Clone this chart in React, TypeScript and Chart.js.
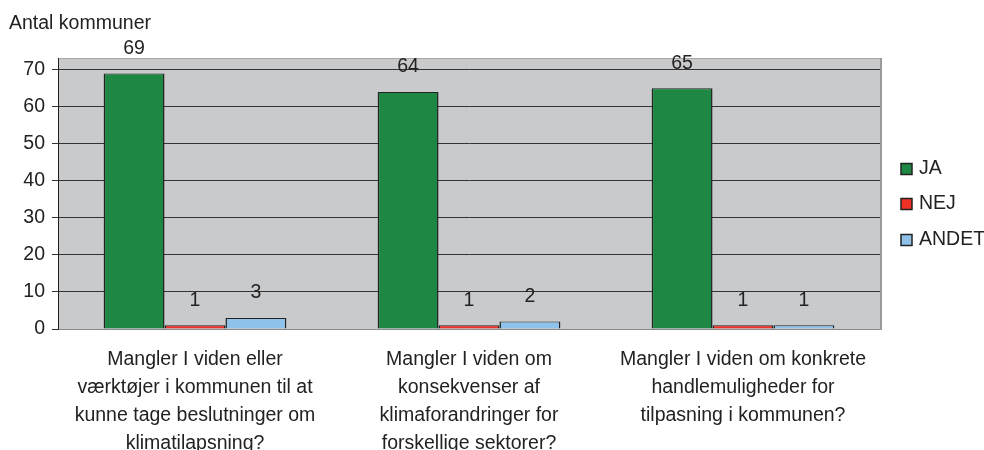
import React, { useEffect, useRef } from "react";
import { Chart, registerables } from "chart.js";

Chart.register(...registerables);

const categories: string[][] = [
  ["Mangler I viden eller", "værktøjer i kommunen til at", "kunne tage beslutninger om", "klimatilapsning?"],
  ["Mangler I viden om", "konsekvenser af", "klimaforandringer for", "forskellige sektorer?"],
  ["Mangler I viden om konkrete", "handlemuligheder for", "tilpasning i kommunen?"],
];
const seriesNames = ["JA", "NEJ", "ANDET"];
const jaValues = [69, 64, 65];
const nejValues = [1, 1, 1];
const andetValues = [3, 2, 1];
const seriesColors = ["#1f8744", "#ee3124", "#8fc2ea"];
const yTickValues = [0, 10, 20, 30, 40, 50, 60, 70];
const yAxisTitle = "Antal kommuner";

const FONT = "'Liberation Sans', Arial, sans-serif";
const FS = 19.5;
const TEXT = "#222222";

const plotPlugin = {
  id: "plotDecor",
  beforeDraw(chart: any) {
    const { ctx, chartArea: a } = chart;
    ctx.save();
    ctx.fillStyle = "#c9cacc";
    ctx.fillRect(a.left, a.top, a.right - a.left, a.bottom - a.top);
    ctx.strokeStyle = "#a8a8a8";
    ctx.lineWidth = 1;
    ctx.beginPath();
    ctx.moveTo(a.left, a.top + 0.5);
    ctx.lineTo(a.right, a.top + 0.5);
    ctx.stroke();
    ctx.restore();
  },
  afterDatasetsDraw(chart: any) {
    const { ctx, chartArea: a } = chart;
    ctx.save();
    ctx.strokeStyle = "#9a9a9a";
    ctx.lineWidth = 2;
    ctx.beginPath();
    ctx.moveTo(a.right + 1, a.top);
    ctx.lineTo(a.right + 1, a.bottom + 1);
    ctx.stroke();
    ctx.fillStyle = TEXT;
    ctx.font = `${FS}px ${FONT}`;
    ctx.textAlign = "center";
    ctx.textBaseline = "middle";
    chart.data.datasets.forEach((ds: any, i: number) => {
      const meta = chart.getDatasetMeta(i);
      meta.data.forEach((el: any, j: number) => {
        ctx.fillText(String(ds.data[j]), el.x, el.y - 25);
      });
    });
    ctx.restore();
  },
  afterDraw(chart: any) {
    const { ctx } = chart;
    ctx.save();
    ctx.fillStyle = TEXT;
    ctx.font = `${FS}px ${FONT}`;
    ctx.textAlign = "left";
    ctx.textBaseline = "middle";
    ctx.fillText(yAxisTitle, 9, 24);
    const ys = [169, 204, 240];
    chart.data.datasets.forEach((ds: any, i: number) => {
      const y = ys[i];
      ctx.fillStyle = ds.backgroundColor;
      ctx.fillRect(901, y - 5.5, 11, 11);
      ctx.strokeStyle = "#222";
      ctx.lineWidth = 1.5;
      ctx.strokeRect(901, y - 5.5, 11, 11);
      ctx.fillStyle = TEXT;
      ctx.fillText(ds.label, 919, y);
    });
    ctx.restore();
  },
};

export default function App() {
  const ref = useRef<HTMLCanvasElement | null>(null);
  useEffect(() => {
    if (!ref.current) return;
    const values = [jaValues, nejValues, andetValues];
    const chart = new Chart(ref.current, {
      type: "bar",
      data: {
        labels: categories,
        datasets: seriesNames.map((name, i) => ({
          label: name,
          data: values[i],
          backgroundColor: seriesColors[i],
          borderColor: "#222222",
          borderWidth: { top: 1, left: 1.5, right: 1.5, bottom: 0 },
          borderSkipped: false,
          categoryPercentage: 0.667,
          barPercentage: 1,
        })),
      },
      options: {
        animation: false,
        responsive: false,
        maintainAspectRatio: false,
        layout: { padding: { top: 58, right: 104, left: 0, bottom: 0 } },
        plugins: {
          legend: { display: false },
          tooltip: { enabled: false },
        },
        scales: {
          x: {
            grid: { display: false },
            border: { display: false },
            ticks: {
              color: TEXT,
              font: { family: FONT, size: FS, lineHeight: 28 / FS },
              padding: 9,
              maxRotation: 0,
              autoSkip: false,
            },
            afterFit(scale: any) {
              scale.height = 121;
            },
          },
          y: {
            min: 0,
            max: 73.2,
            border: { display: true, color: "#222", width: 1 },
            grid: {
              color: (c: any) => (c.tick && c.tick.value === 0 ? "#8a8a8a" : "#333333"),
              lineWidth: 1,
              tickColor: "#333333",
              tickLength: 6,
              drawTicks: true,
            },
            afterBuildTicks(scale: any) {
              scale.ticks = yTickValues.map((v) => ({ value: v }));
            },
            ticks: {
              color: TEXT,
              font: { family: FONT, size: FS },
              padding: 7,
            },
            afterFit(scale: any) {
              scale.width = 58;
            },
          },
        },
      },
      plugins: [plotPlugin],
    });
    return () => chart.destroy();
  }, []);
  return (
    <div style={{ position: "fixed", left: 0, top: 0, width: 984, height: 450, background: "#fff" }}>
      <canvas ref={ref} width={984} height={450} style={{ width: 984, height: 450, display: "block" }} />
    </div>
  );
}
